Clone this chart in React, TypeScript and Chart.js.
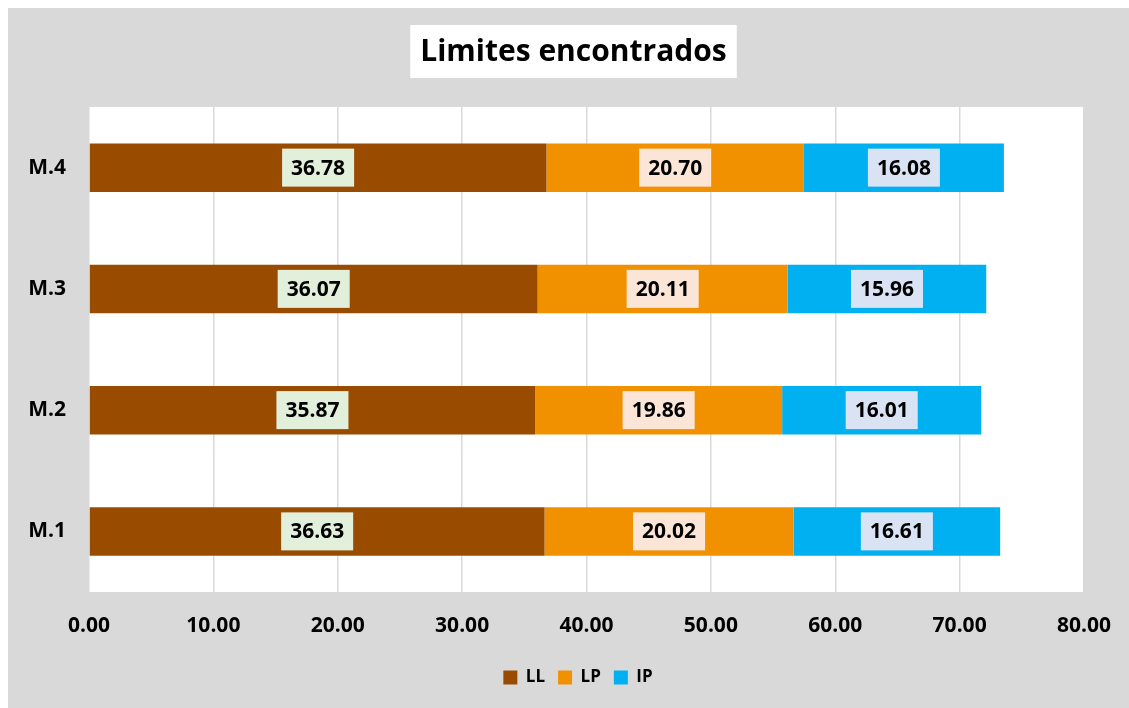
import React, { useEffect, useRef } from "react";
import { Chart, registerables } from "chart.js";

Chart.register(...registerables);

const categories = ["M.1", "M.2", "M.3", "M.4"];
const llValues = [36.63, 35.87, 36.07, 36.78];
const lpValues = [20.02, 19.86, 20.11, 20.7];
const ipValues = [16.61, 16.01, 15.96, 16.08];
const seriesNames = ["LL", "LP", "IP"];
const xTicks = [0, 10, 20, 30, 40, 50, 60, 70, 80];
const titleText = "Limites encontrados";

const FONT = "'Open Sans', 'Noto Sans', sans-serif";
const barColors = ["#994c00", "#f29100", "#00b0f0"];
const labelBg = ["#e2efda", "#fbe5d6", "#dae3f3"];

const bgPlugin = {
  id: "bgPlugin",
  afterLayout(chart: any) {
    if (chart.legend) {
      chart.legend.left = 32;
      chart.legend.right = 1108;
    }
  },
  beforeDraw(chart: any) {
    const { ctx, chartArea } = chart;
    ctx.save();
    ctx.fillStyle = "#d9d9d9";
    ctx.fillRect(0, 0, chart.width, chart.height);
    ctx.fillStyle = "#ffffff";
    ctx.fillRect(chartArea.left, chartArea.top, chartArea.right - chartArea.left, chartArea.bottom - chartArea.top);
    ctx.restore();
  },
  afterDraw(chart: any) {
    const { ctx } = chart;
    ctx.save();
    ctx.font = `bold 30px ${FONT}`;
    const w = ctx.measureText(titleText).width;
    const cx = 565.5;
    const cy = 43.5;
    ctx.fillStyle = "#ffffff";
    ctx.fillRect(cx - w / 2 - 10, 17, w + 20, 53);
    ctx.fillStyle = "#000000";
    ctx.textAlign = "center";
    ctx.textBaseline = "middle";
    ctx.fillText(titleText, cx, cy + 1);
    ctx.restore();
  },
};

const labelPlugin = {
  id: "labelPlugin",
  afterDatasetsDraw(chart: any) {
    const { ctx } = chart;
    ctx.save();
    ctx.font = `bold 21px ${FONT}`;
    ctx.textAlign = "center";
    ctx.textBaseline = "middle";
    chart.data.datasets.forEach((ds: any, di: number) => {
      const meta = chart.getDatasetMeta(di);
      meta.data.forEach((el: any, i: number) => {
        const v = ds.data[i];
        const text = v.toFixed(2);
        const cx = (el.x + el.base) / 2;
        const cy = el.y;
        const w = ctx.measureText(text).width + 18;
        const h = 38;
        ctx.fillStyle = labelBg[di];
        ctx.fillRect(cx - w / 2, cy - h / 2, w, h);
        ctx.fillStyle = "#000000";
        ctx.fillText(text, cx, cy + 1);
      });
    });
    ctx.restore();
  },
};

export default function App() {
  const ref = useRef<HTMLCanvasElement>(null);
  useEffect(() => {
    if (!ref.current) return;
    const chart = new Chart(ref.current, {
      type: "bar",
      data: {
        labels: categories,
        datasets: [llValues, lpValues, ipValues].map((d, i) => ({
          label: seriesNames[i],
          data: d,
          backgroundColor: barColors[i],
          borderWidth: 0,
          barPercentage: 0.4,
          categoryPercentage: 1,
        })),
      },
      options: {
        indexAxis: "y",
        responsive: false,
        animation: false,
        layout: { padding: { left: 0, right: 13, top: 99, bottom: 12 } },
        scales: {
          x: {
            stacked: true,
            min: 0,
            max: 80,
            afterBuildTicks: (s: any) => {
              s.ticks = xTicks.map((v) => ({ value: v }));
            },
            afterFit: (s: any) => {
              s.height = 64;
              s.paddingRight = 45;
            },
            grid: { color: "#d9d9d9", lineWidth: 1.5, drawTicks: false },
            border: { display: false },
            ticks: {
              padding: 21,
              color: "#000000",
              font: { family: FONT, size: 21, weight: "bold" },
              callback: (v: any) => Number(v).toFixed(2),
            },
          },
          y: {
            stacked: true,
            reverse: true,
            afterFit: (s: any) => {
              s.width = 81;
            },
            grid: { display: false, drawTicks: false },
            border: { display: false },
            ticks: {
              padding: 23,
              color: "#000000",
              font: { family: FONT, size: 21, weight: "bold" },
            },
          },
        },
        plugins: {
          legend: {
            position: "bottom",
            labels: {
              boxWidth: 14,
              boxHeight: 14,
              padding: 13,
              color: "#000000",
              font: { family: FONT, size: 17, weight: "bold" },
            },
          },
          title: { display: false },
          tooltip: { enabled: false },
        },
      },
      plugins: [bgPlugin, labelPlugin],
    } as any);
    return () => chart.destroy();
  }, []);
  return (
    <div style={{ position: "fixed", left: 8, top: 8, width: 1121, height: 700 }}>
      <canvas ref={ref} width={1121} height={700} style={{ display: "block" }} />
    </div>
  );
}
